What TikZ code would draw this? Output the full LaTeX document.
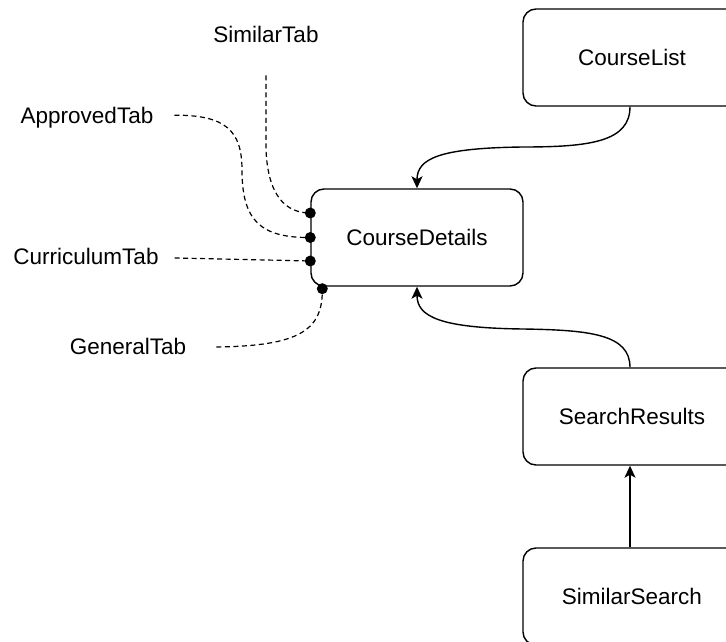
\documentclass[tikz,border=0pt]{standalone}
\usepackage{fontspec}
\setmainfont{Liberation Sans}
\usetikzlibrary{arrows.meta}
\begin{document}
\begin{tikzpicture}[x=1pt,y=-1pt,
  screen/.style={draw=black, line width=1.4pt, rounded corners=13pt,
    minimum height=97pt, inner sep=0pt, font=\fontsize{22.5}{27}\selectfont},
  tablabel/.style={inner sep=0pt, anchor=base, font=\fontsize{22.5}{27}\selectfont},
  flow/.style={line width=1.4pt, -{Stealth[length=12pt,width=11pt,inset=3pt]}},
  link/.style={line width=1.2pt, dash pattern=on 5pt off 3.5pt},
  port/.style={circle, fill=black, inner sep=0pt, minimum size=11pt}]
\clip (0,0) rectangle (726,642);

% screens
\node[screen, minimum width=212pt] (CD) at (417,237.5) {CourseDetails};
\node[screen, minimum width=218pt] (CL) at (632,57.5) {CourseList};
\node[screen, minimum width=218pt] (SR) at (632,416.5) {SearchResults};
\node[screen, minimum width=218pt] (SS) at (632,596.5) {SimilarSearch};

% tab labels
\node[tablabel] (ST) at (266,43) {SimilarTab};
\node[tablabel] (AT) at (87,124) {ApprovedTab};
\node[tablabel] (CT) at (86,264) {CurriculumTab};
\node[tablabel] (GT) at (128,354) {GeneralTab};

% ports on CourseDetails
\coordinate (p1) at ([yshift=24.5pt]CD.west);
\coordinate (p2) at (CD.west);
\coordinate (p3) at ([yshift=-23.5pt]CD.west);
\coordinate (p4) at ([xshift=12pt,yshift=-2pt]CD.south west);

% navigation
\draw[flow] ([xshift=-2pt]CL.south) .. controls ++(0,35) and (590,147) .. (523,147)
  .. controls (440,148) and ([yshift=30pt]CD.north) .. (CD.north);
\draw[flow] ([xshift=-2pt]SR.north) .. controls ++(0,-33) and (590,330) .. (523,329)
  .. controls (440,328) and ([yshift=-30pt]CD.south) .. (CD.south);
\draw[flow] ([xshift=-2pt]SS.north) -- ([xshift=-2pt]SR.south);

% tab links
\draw[link] ([yshift=-32pt]ST.south) -- (266,150) .. controls (268,195) and (285,213) .. (p1);
\draw[link] ([xshift=21pt,yshift=3pt]AT.east) .. controls (225,115) and (242,130) .. (242,170)
  .. controls (242,220) and (260,238) .. (p2);
\draw[link] ([xshift=16pt,yshift=-2pt]CT.east) -- (p3);
\draw[link] ([xshift=30pt,yshift=-1pt]GT.east) .. controls (300,346) and (323,330) .. (p4);

\foreach \p in {p1,p2,p3,p4} \node[port] at (\p) {};
\end{tikzpicture}
\end{document}
